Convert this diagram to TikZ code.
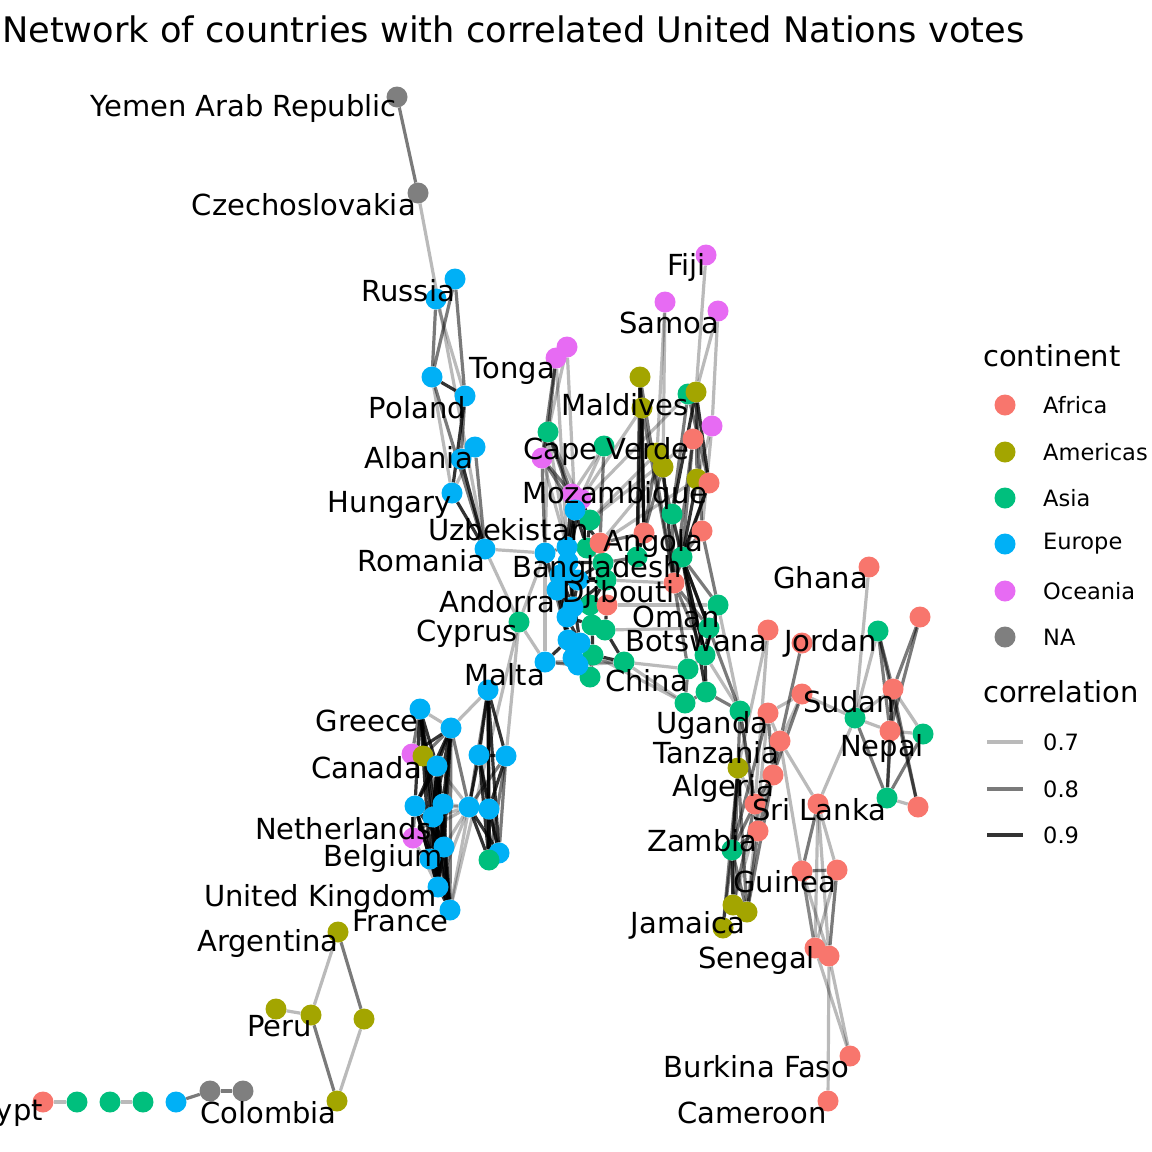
\documentclass[tikz,border=0pt]{standalone}
\usepackage{fontspec}
\setmainfont{DejaVu Sans}
\pgfdeclarelayer{bg}
\pgfsetlayers{bg,main}
\definecolor{cafr}{HTML}{F8766D}
\definecolor{camr}{HTML}{A3A500}
\definecolor{casi}{HTML}{00BF7D}
\definecolor{ceur}{HTML}{00B0F6}
\definecolor{coce}{HTML}{E76BF3}
\definecolor{cna}{HTML}{7F7F7F}
\begin{document}
\begin{tikzpicture}[x=1pt,y=-1pt,
  pt/.style={circle,inner sep=0pt,minimum size=21pt,draw=none},
  nAf/.style={pt,fill=cafr}, nAm/.style={pt,fill=camr}, nAs/.style={pt,fill=casi},
  nEu/.style={pt,fill=ceur}, nOc/.style={pt,fill=coce}, nNA/.style={pt,fill=cna},
  ed7/.style={line width=3.2pt,draw=black,draw opacity=0.27},
  ed8/.style={line width=3.2pt,draw=black,draw opacity=0.52},
  ed9/.style={line width=3.2pt,draw=black,draw opacity=0.8},
  lab/.style={font=\fontsize{29}{34}\selectfont,inner sep=0pt,anchor=east},
  labw/.style={lab,anchor=west},
  legt/.style={font=\fontsize{29}{34}\selectfont,inner sep=0pt,anchor=west},
  legl/.style={font=\fontsize{22.5}{27}\selectfont,inner sep=0pt,anchor=west}]
\useasboundingbox (0,0) rectangle (1152,1152);
\clip (0,0) rectangle (1152,1152);

% ---------- nodes ----------
\node[nNA] (ye) at (397,97) {};
\node[nNA] (cz) at (418,193) {};
\node[nEu] (ru1) at (455,279) {};
\node[nEu] (ru2) at (436,299) {};
\node[nEu] (po1) at (432,377) {};
\node[nEu] (po2) at (465,396) {};
\node[nEu] (al1) at (475,447) {};
\node[nEu] (al2) at (461,459) {};
\node[nEu] (hu) at (452,493) {};
\node[nEu] (ro) at (485,549) {};

\node[nOc] (to1) at (556,358) {};
\node[nOc] (to2) at (567,347) {};
\node[nAs] (cv1) at (548,432) {};
\node[nAs] (cv2) at (604,446) {};
\node[nOc] (cv3) at (542,458) {};
\node[nOc] (mz1) at (572,494) {};
\node[nOc] (mz2) at (581,499) {};

\node[nAs] (g1) at (590,520) {};
\node[nAs] (g2) at (587,548) {};
\node[nAs] (g3) at (603,563) {};
\node[nAs] (g4) at (606,580) {};
\node[nAs] (g5) at (590,605) {};
\node[nAs] (g6) at (592,625) {};
\node[nAs] (g7) at (605,630) {};
\node[nAs] (g8) at (593,655) {};
\node[nAs] (g9) at (624,662) {};
\node[nAs] (g10) at (590,677) {};
\node[nAf] (r1) at (600,543) {};
\node[nAf] (r2) at (607,605) {};
\node[nEu] (b1) at (575,510) {};
\node[nEu] (b2) at (545,553) {};
\node[nEu] (b3) at (567,547) {};
\node[nEu] (b4) at (568,562) {};
\node[nEu] (b14) at (578,580) {};
\node[nEu] (b5) at (560,575) {};
\node[nEu] (b6) at (557,590) {};
\node[nEu] (b7) at (573,607) {};
\node[nEu] (b8) at (567,617) {};
\node[nEu] (b9) at (568,640) {};
\node[nEu] (b10) at (580,643) {};
\node[nEu] (b11) at (545,662) {};
\node[nEu] (b12) at (573,658) {};
\node[nEu] (b13) at (578,665) {};
\node[nAs] (cy) at (519,622) {};
\node[nEu] (ma) at (488,690) {};

\node[nOc] (fi) at (706,255) {};
\node[nOc] (sa1) at (665,302) {};
\node[nOc] (sa2) at (718,311) {};
\node[nAm] (md1) at (640,377) {};
\node[nAm] (md2) at (642,408) {};
\node[nAs] (md3) at (688,394) {};
\node[nAm] (md4) at (696,392) {};
\node[nOc] (uo1) at (712,426) {};
\node[nAf] (ur1) at (693,439) {};
\node[nAm] (uo2) at (657,453) {};
\node[nAm] (uo3) at (663,467) {};
\node[nAm] (uo4) at (697,479) {};
\node[nAf] (ur2) at (709,483) {};
\node[nAs] (ug1) at (672,514) {};
\node[nAf] (ur3) at (702,531) {};
\node[nAf] (ur4) at (644,533) {};
\node[nAs] (ug2) at (682,557) {};
\node[nAs] (ug3) at (637,557) {};
\node[nAf] (ur5) at (674,583) {};
\node[nAs] (om1) at (718,605) {};
\node[nAs] (om2) at (709,628) {};
\node[nAs] (bo1) at (705,655) {};
\node[nAs] (bo2) at (688,669) {};
\node[nAs] (bo3) at (706,692) {};
\node[nAs] (bo4) at (685,703) {};
\node[nAs] (ugn) at (740,711) {};

\node[nAf] (gh) at (869,567) {};
\node[nAf] (rr1) at (920,617) {};
\node[nAs] (rg1) at (878,631) {};
\node[nAf] (jo) at (802,643) {};
\node[nAf] (rr2) at (768,630) {};
\node[nAf] (su1) at (893,689) {};
\node[nAf] (su2) at (802,694) {};
\node[nAs] (ng1) at (855,718) {};
\node[nAf] (ne1) at (890,731) {};
\node[nAs] (ng2) at (923,734) {};
\node[nAs] (ng3) at (887,798) {};
\node[nAf] (nr2) at (918,807) {};
\node[nAf] (tz1) at (768,713) {};
\node[nAf] (tz2) at (780,741) {};
\node[nAm] (tzo) at (738,768) {};
\node[nAf] (alr) at (773,775) {};
\node[nAf] (ag) at (755,804) {};
\node[nAf] (sl) at (818,804) {};
\node[nAf] (zr) at (758,831) {};
\node[nAs] (za) at (732,850) {};
\node[nAf] (gu1) at (802,871) {};
\node[nAf] (gu2) at (837,870) {};
\node[nAm] (ja1) at (733,905) {};
\node[nAm] (ja2) at (747,912) {};
\node[nAm] (ja3) at (723,928) {};
\node[nAf] (se1) at (815,948) {};
\node[nAf] (se2) at (829,956) {};
\node[nAf] (bf) at (850,1056) {};
\node[nAf] (cm) at (828,1101) {};

\node[nEu] (gr1) at (420,709) {};
\node[nEu] (gr2) at (451,728) {};
\node[nOc] (ca1) at (412,754) {};
\node[nAm] (ca2) at (423,756) {};
\node[nEu] (ca3) at (437,766) {};
\node[nEu] (lb1) at (479,755) {};
\node[nEu] (lb2) at (506,756) {};
\node[nEu] (lb3) at (415,806) {};
\node[nEu] (lb4) at (443,804) {};
\node[nEu] (lb5) at (433,817) {};
\node[nEu] (lb6) at (469,807) {};
\node[nEu] (lb7) at (489,809) {};
\node[nOc] (ne) at (413,838) {};
\node[nEu] (be1) at (444,847) {};
\node[nEu] (be2) at (430,859) {};
\node[nEu] (lb8) at (499,853) {};
\node[nAs] (lg) at (489,860) {};
\node[nEu] (uk) at (438,887) {};
\node[nEu] (fr) at (450,910) {};

\node[nAm] (ar) at (338,932) {};
\node[nAm] (pe1) at (276,1009) {};
\node[nAm] (pe2) at (311,1015) {};
\node[nAm] (pe3) at (364,1019) {};
\node[nAm] (co) at (337,1101) {};
\node[nAf] (eg) at (43,1102) {};
\node[nAs] (c1) at (77,1102) {};
\node[nAs] (c2) at (110,1102) {};
\node[nAs] (c3) at (143,1102) {};
\node[nEu] (c4) at (176,1102) {};
\node[nNA] (c5) at (210,1091) {};
\node[nNA] (c6) at (243,1091) {};

% ---------- edges ----------
\begin{pgfonlayer}{bg}
\foreach \a/\b in {cz/ro, ru2/po2, po1/hu, al1/hu, ro/cy, ro/b2, cy/lb2, cy/b2, cy/b11, cy/fr, ma/gr2,
  to2/cv3, to2/b1, to1/b3, cv1/b2, cv1/b3, cv1/g1, cv2/mz1, cv2/b1, cv3/b3, b2/b11,
  g4/ur5, r2/om1, g7/om2, g8/bo4, g9/bo2, g9/bo4, b13/g9, b11/g9,
  fi/md4, sa1/uo2, sa1/uo3, sa2/md4, sa2/uo1, uo1/ur3, uo1/uo4,
  uo2/g1, uo3/r1, ur1/g1, md2/mz2, uo4/r1, md3/b1, bo1/ugn, om1/ugn,
  ugn/zr, tz2/sl, rr2/tzo, rr2/ag, su2/tz1, su2/tz2, tz1/tz2, tz1/ja2, tz2/ja1, tz2/se1,
  sl/ng1, sl/gu2, sl/se1, sl/se2, gu1/se1, gu1/se2, gu2/se1, se2/bf, se1/bf, se2/cm,
  gh/ng1, rg1/ng1, su1/ng1, su1/ng2, ng1/ne1, ne1/ng2, ng3/nr2, su2/ng1, tzo/ag,
  ar/pe2, pe1/pe2, pe3/co, eg/c1, c2/c3,
  lb6/lb3, lb6/lb4, lb6/lb5, lb6/ne, lb6/be1, lb6/uk, lb6/fr, lb6/ca3, ne/uk, gr1/gr2}
  \draw[ed7] (\a) -- (\b);
\foreach \a/\b in {ye/cz, ru1/po1, ru2/po1, ru1/po2, po1/ro, po2/al2, al1/ro,
  to1/cv1, to1/cv3, cv1/b1, cv1/mz1, cv1/cv3, cv2/r1, cv3/mz1, cv3/b2, cv3/b1, mz1/g1,
  b2/b3, b2/b6, b2/b9, b11/b13, g3/ug3, r1/ur4,
  md2/ug3, md1/ur5, md2/ur5, md3/ug1, md4/ur3, md4/uo4, md3/ur2, ur1/ug2, ur1/ur5, uo2/ur4,
  uo3/ug3, uo2/ug2, ur2/ur5, ug1/ur5, ur3/ug2, ug2/ur5, ug2/om1, ur5/bo1, ur5/bo2, ur5/om2,
  ug1/bo1, om1/bo1, bo1/bo2, bo2/bo4, bo3/bo4, bo3/ugn, ug2/ugn, ur3/om1, md1/md2,
  ugn/tzo, ugn/ag, jo/tz2, su2/alr, tz1/alr, tz2/alr, tzo/ja1, tzo/ja2, tzo/ja3, alr/ag,
  alr/zr, alr/ja2, ag/za, ag/ja1, zr/ja2, zr/za, za/ja3, za/ja2, ja1/ja2, tz1/za,
  sl/gu1, gu1/gu2, gu2/se2,
  rr1/su1, rr1/ne1, rg1/su1, rg1/ne1, rg1/nr2, su1/ne1, su1/ng3, su1/nr2, ng1/ng3, ne1/ng3, ng2/ng3,
  ar/pe3, pe2/co, c4/c5, c5/c6,
  gr1/be1, gr2/fr, ca1/ca3, ca2/gr2, ca1/gr1, ne/lb5, ne/lb3, lb6/gr2, lb6/lb2, lb6/lb7, ma/lb6,
  lb1/lb8, lb2/lb8, lb2/lg}
  \draw[ed8] (\a) -- (\b);
\foreach \a/\b in {po1/po2, po2/hu, al2/ro, hu/ro,
  mz1/b1, mz2/b1, mz2/g1, mz1/b3, mz2/b4,
  b1/b3, b1/b4, b1/g1, b1/g2, b1/r1, b3/b4, b3/b5, b3/g2, b4/b5, b4/b6, b4/g3, b5/b6, b5/b7,
  b5/g4, b6/b7, b6/b8, b7/b8, b7/g5, b7/r2, b8/b9, b8/b10, b8/g6, b9/b10, b9/b12, b9/b13,
  b9/b11, b10/b12, b10/b13, b10/g8, b12/b13, b12/g10, g1/g2, g2/g3, g2/r1, g3/g4, g4/g5,
  g5/g6, g6/g7, g6/g8, g7/g9, g8/g9, g8/g10, g7/r2, b6/b9, b5/b9, b4/b10, b3/b7, g3/b6,
  g4/b7, g5/b8, b14/b4, b14/b7, b14/g4, b14/b5,
  md1/ur4, md1/ug3, md2/ur4, md4/ug1, md4/ur2, uo3/ur5, uo4/ug2, ur2/ug2, ur4/ug3, ug2/om2,
  ug2/bo1, ug2/bo3, om2/bo1, bo1/bo3, tzo/za, za/ja1,
  ma/lb1, ma/lb2, ma/lb7, ma/lb8, ma/lg, lb6/lb1, lb6/lb8, lb6/lg, lb1/lb2, lb1/lb7, lb1/lg,
  lb2/lb7, lb7/lb8, lb7/lg,
  gr1/ca3, gr1/lb3, gr1/lb5, gr1/be2, gr1/uk, gr1/fr, gr2/ca1, gr2/ca3, gr2/lb3, gr2/lb4,
  gr2/lb5, gr2/be1, gr2/uk, ca3/lb3, ca3/lb4, ca3/lb5, ca3/be1, ca3/be2, ca3/uk, ca3/fr,
  lb3/lb5, lb3/be1, lb3/be2, lb3/uk, lb3/fr, lb4/lb5, lb4/be2, lb4/uk, lb4/fr, lb5/be1,
  lb5/uk, lb5/fr, be1/be2, be1/uk, be1/fr, be2/uk, be2/fr, uk/fr}
  \draw[ed9] (\a) -- (\b);
\end{pgfonlayer}

% ---------- labels ----------
\node[lab] (tye) at (397,108) {Yemen Arab Republic};
\node[lab] (tcz) at (416,205) {Czechoslovakia};
\node[lab] (tru) at (455,291) {Russia};
\node[lab] (tpo) at (466,408) {Poland};
\node[lab] (tal) at (473,458) {Albania};
\node[lab] (thu) at (452,505) {Hungary};
\node[labw] (tuz) at (428,530) {Uzbekistan};
\node[lab] (tro) at (485,561) {Romania};
\node[lab] (tto) at (555,371) {Tonga};
\node[labw] (tcv) at (523,451) {Cape Verde};
\node[labw] (tmz) at (522,495) {Mozambique};
\node[labw] (tan) at (603,543) {Angola};
\node[labw] (tbd) at (512,569) {Bangladesh};
\node[labw] (tdj) at (562,594) {Djibouti};
\node[lab] (tad) at (555,602) {Andorra};
\node[labw] (tom) at (632,617) {Oman};
\node[labw] (tbo) at (625,641) {Botswana};
\node[lab] (tcy) at (518,634) {Cyprus};
\node[lab] (tma) at (545,675) {Malta};
\node[labw] (tch) at (605,681) {China};
\node[labw] (tmd) at (561,405) {Maldives};
\node[labw] (tsa) at (619,323) {Samoa};
\node[lab] (tfi) at (706,267) {Fiji};
\node[labw] (tgh) at (773,578) {Ghana};
\node[labw] (tjo) at (784,643) {Jordan};
\node[labw] (tsu) at (803,702) {Sudan};
\node[labw] (tne) at (840,748) {Nepal};
\node[labw] (tug) at (656,725) {Uganda};
\node[labw] (ttz) at (653,753) {Tanzania};
\node[labw] (tag) at (672,788) {Algeria};
\node[labw] (tsl) at (752,810) {Sri Lanka};
\node[labw] (tza) at (647,841) {Zambia};
\node[labw] (tgu) at (733,882) {Guinea};
\node[lab] (tja) at (745,925) {Jamaica};
\node[labw] (tse) at (698,960) {Senegal};
\node[lab] (tbf) at (849,1067) {Burkina Faso};
\node[lab] (tcm) at (827,1113) {Cameroon};
\node[lab] (tgr) at (419,721) {Greece};
\node[lab] (tca) at (422,768) {Canada};
\node[lab] (tnl) at (432,829) {Netherlands};
\node[lab] (tbe) at (443,858) {Belgium};
\node[lab] (tuk) at (437,898) {United Kingdom};
\node[lab] (tfr) at (449,921) {France};
\node[labw] (tar) at (197,943) {Argentina};
\node[labw] (tpe) at (247,1026) {Peru};
\node[labw] (tco) at (200,1113) {Colombia};
\node[lab] (teg) at (43,1113) {Egypt};

% ---------- title ----------
\node[font=\fontsize{35.2}{40}\selectfont,inner sep=0pt,anchor=west] (title) at (2,29) {Network of countries with correlated United Nations votes};

% ---------- legend ----------
\node[legt] (lgc) at (983,356) {continent};
\node[nAf] (k1) at (1005,405) {}; \node[legl] (k1t) at (1043,405) {Africa};
\node[nAm] (k2) at (1005,452) {}; \node[legl] (k2t) at (1043,452) {Americas};
\node[nAs] (k3) at (1005,498) {}; \node[legl] (k3t) at (1043,498) {Asia};
\node[nEu] (k4) at (1005,544) {}; \node[legl] (k4t) at (1043,544) {Europe};
\node[nOc] (k5) at (1005,591) {}; \node[legl] (k5t) at (1043,591) {Oceania};
\node[nNA] (k6) at (1005,637) {}; \node[legl] (k6t) at (1043,637) {NA};
\node[legt] (lgr) at (983,692) {correlation};
\coordinate (l1a) at (987,742); \coordinate (l1b) at (1023,742);
\coordinate (l2a) at (987,789); \coordinate (l2b) at (1023,789);
\coordinate (l3a) at (987,835); \coordinate (l3b) at (1023,835);
\draw[ed7] (l1a) -- (l1b); \node[legl] (m1) at (1043,742) {0.7};
\draw[ed8] (l2a) -- (l2b); \node[legl] (m2) at (1043,789) {0.8};
\draw[ed9] (l3a) -- (l3b); \node[legl] (m3) at (1043,835) {0.9};
\end{tikzpicture}
\end{document}
